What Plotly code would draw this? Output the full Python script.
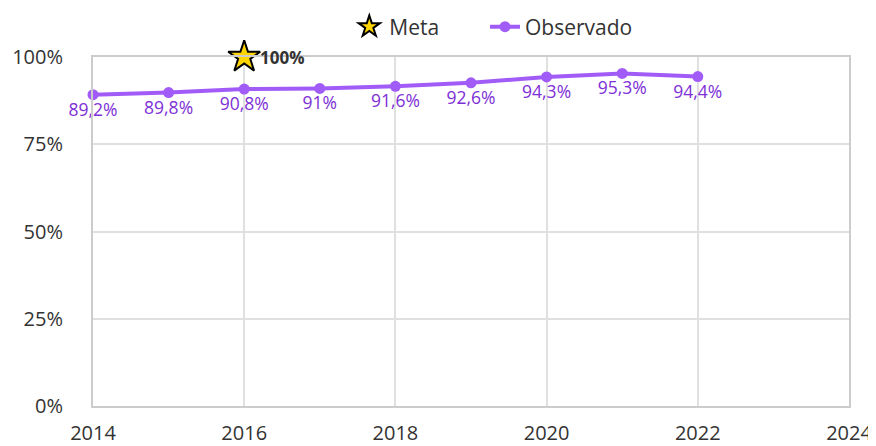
import plotly.graph_objects as go

years = [2014, 2015, 2016, 2017, 2018, 2019, 2020, 2021, 2022]
observado = [89.2, 89.8, 90.8, 91.0, 91.6, 92.6, 94.3, 95.3, 94.4]
meta_year = [2016]
meta_value = [100]
y_ticks = [0, 25, 50, 75, 100]
x_ticks = [2014, 2016, 2018, 2020, 2022, 2024]

def fmt(v):
    s = ("%.1f" % v).rstrip("0").rstrip(".")
    return s.replace(".", ",") + "%"

fig = go.Figure()
fig.add_trace(go.Scatter(
    x=meta_year, y=[v / 100 for v in meta_value], name="Meta", legend="legend",
    mode="markers",
    marker=dict(symbol="star", size=24, color="#FFD500", line=dict(color="#000000", width=2)),
    cliponaxis=False,
))
for xv, yv in zip(meta_year, meta_value):
    fig.add_annotation(x=xv, y=yv / 100, text="<b>" + fmt(yv) + "</b>", showarrow=False,
                       xanchor="left", yanchor="middle", xshift=14,
                       font=dict(family="Open Sans", size=17, color="#333333"))
fig.add_trace(go.Scatter(
    x=years, y=[v / 100 for v in observado], name="Observado", legend="legend2",
    mode="lines+markers+text", text=[fmt(v) for v in observado],
    textposition="bottom center",
    textfont=dict(family="Open Sans", size=17.5, color="#7E2FD6"),
    line=dict(color="#A15CF8", width=4),
    marker=dict(size=11, color="#A15CF8"),
    cliponaxis=False,
))

fig.update_layout(
    width=868, height=438,
    margin=dict(l=85, r=27, t=49, b=40, autoexpand=False),
    plot_bgcolor="white", paper_bgcolor="white",
    font=dict(family="Open Sans", size=20, color="#333333"),
    showlegend=True,
    legend=dict(orientation="h", x=0.339, xanchor="left", y=1.086, yanchor="middle",
                font=dict(size=21, color="#333333")),
    legend2=dict(orientation="h", x=0.5185, xanchor="left", y=1.086, yanchor="middle",
                 font=dict(size=21, color="#333333")),
    xaxis=dict(range=[2014, 2024], tickvals=x_ticks, ticktext=[str(t) for t in x_ticks],
               showgrid=True, gridcolor="#E0E0E0", gridwidth=2,
               showline=True, linecolor="#CCCCCC", linewidth=2, mirror=True,
               zeroline=False, ticks="", ticklabelstandoff=8, tickfont=dict(size=20, color="#333333")),
    yaxis=dict(range=[0, 1], tickvals=[t / 100 for t in y_ticks], ticktext=[f"{t}%" for t in y_ticks],
               showgrid=True, gridcolor="#E0E0E0", gridwidth=2,
               showline=True, linecolor="#CCCCCC", linewidth=2, mirror=True,
               zeroline=False, ticks="", ticklabelstandoff=24, tickfont=dict(size=20, color="#333333")),
)
fig.write_html("out.html")
